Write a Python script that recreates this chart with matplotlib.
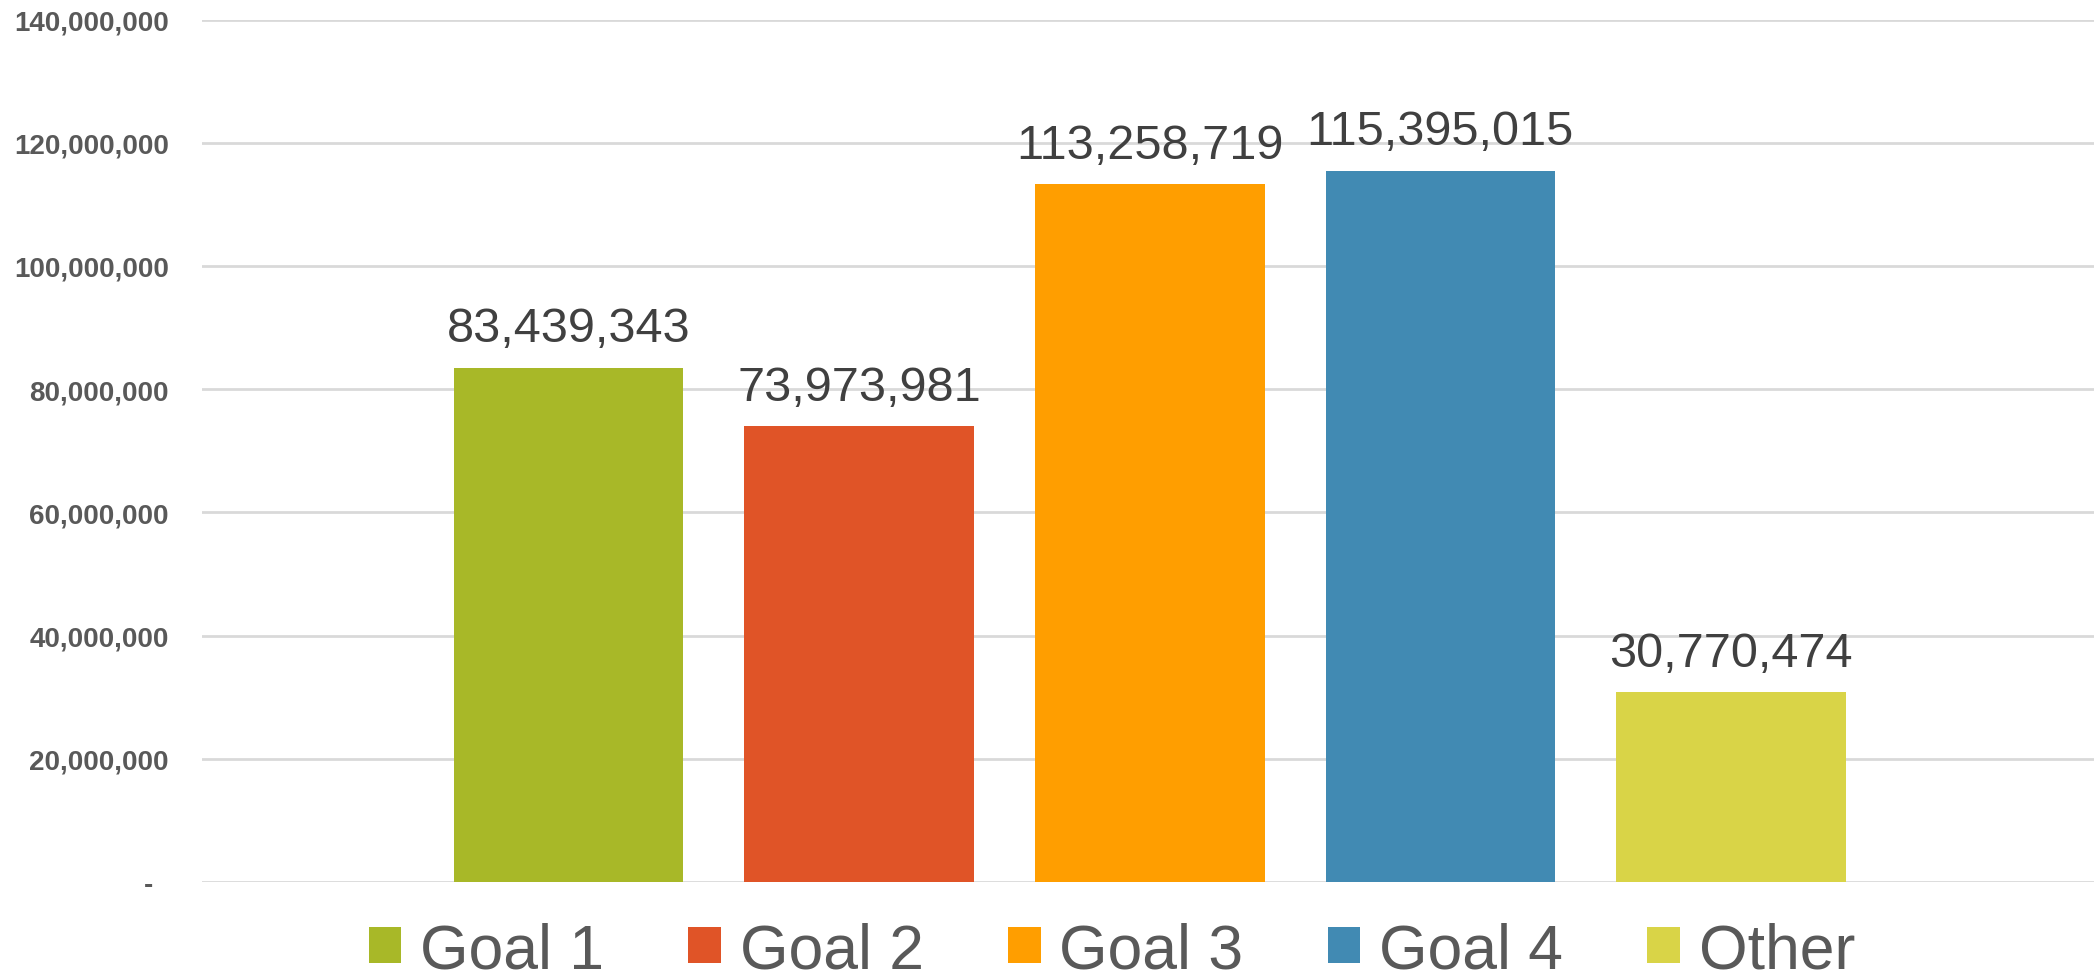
import matplotlib.pyplot as plt
from matplotlib.patches import Patch
from matplotlib.ticker import FuncFormatter

# data
categories = ['Goal 1', 'Goal 2', 'Goal 3', 'Goal 4', 'Other']
values = [83439343, 73973981, 113258719, 115395015, 30770474]
colors = ['#A8B828', '#E05427', '#FF9E00', '#418AB3', '#D9D447']
y_ticks = [0, 20000000, 40000000, 60000000, 80000000, 100000000, 120000000, 140000000]

plt.rcParams['font.family'] = ['Liberation Sans', 'DejaVu Sans']

fig = plt.figure(figsize=(20.94, 9.79), dpi=100)
ax = fig.add_axes([202 / 2094, 1 - 883 / 979, 1 - 202 / 2094, (883 - 20.5) / 979])

x = list(range(len(values)))
bars = ax.bar(x, values, width=0.79, color=colors, zorder=2)
ax.bar_label(bars, labels=[f'{v:,}' for v in values], padding=12,
             fontsize=35, color='#404040')

ax.set_xlim(-1.262, 5.25)
ax.set_ylim(0, 140000000)
ax.set_yticks(y_ticks)
ax.yaxis.set_major_formatter(FuncFormatter(lambda v, p: '-  ' if v == 0 else f'{v:,.0f}'))
ax.tick_params(axis='y', length=0, pad=24, labelsize=20, labelcolor='#595959')
for lab in ax.get_yticklabels():
    lab.set_fontweight('bold')
ax.set_xticks([])
ax.grid(axis='y', color='#D9D9D9', linewidth=2, zorder=0)
for s in ax.spines.values():
    s.set_visible(False)

# legend with square markers
handles = [Patch(facecolor=c, edgecolor='none') for c in colors]
fig.legend(handles, categories, loc='center', bbox_to_anchor=(0.531, 0.028),
           ncol=5, frameon=False, fontsize=45, labelcolor='#595959',
           handlelength=0.52, handleheight=0.52, handletextpad=0.3,
           columnspacing=1.35, borderpad=0, borderaxespad=0)

plt.savefig('out.png', dpi=100)
